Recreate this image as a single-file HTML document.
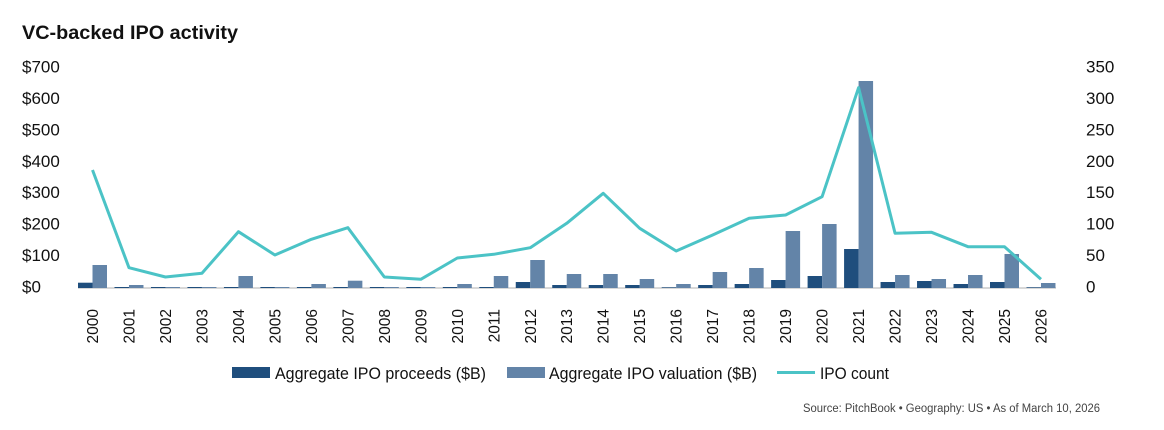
<!DOCTYPE html>
<html><head><meta charset="utf-8"><style>
html,body{margin:0;padding:0;background:#fff;}
svg{display:block;font-family:"Liberation Sans Narrow","Liberation Sans",sans-serif;}
</style></head><body>
<svg width="1164" height="430" viewBox="0 0 1164 430" xmlns="http://www.w3.org/2000/svg">
<text x="22" y="39" font-family="Liberation Sans, sans-serif" font-weight="bold" font-size="19.5" fill="#111" textLength="216" lengthAdjust="spacingAndGlyphs">VC-backed IPO activity</text>
<g font-size="17" fill="#111" dominant-baseline="middle">
<text x="22" y="68">$700</text><text x="22" y="99.4">$600</text><text x="22" y="130.9">$500</text><text x="22" y="162.3">$400</text><text x="22" y="193.7">$300</text><text x="22" y="225.1">$200</text><text x="22" y="256.6">$100</text><text x="22" y="288">$0</text>
<text x="1086" y="68">350</text><text x="1086" y="99.4">300</text><text x="1086" y="130.9">250</text><text x="1086" y="162.3">200</text><text x="1086" y="193.7">150</text><text x="1086" y="225.1">100</text><text x="1086" y="256.6">50</text><text x="1086" y="288">0</text>
</g>
<line x1="78" y1="288" x2="1056" y2="288" stroke="#ccc" stroke-width="1.5"/>
<g fill="#1f4e7d">
<rect x="78" y="282.7" width="14.5" height="5.3"/><rect x="114.48" y="287" width="14.5" height="1"/><rect x="150.96" y="287" width="14.5" height="1"/><rect x="187.44" y="287" width="14.5" height="1"/><rect x="223.92" y="287" width="14.5" height="1"/><rect x="260.4" y="287" width="14.5" height="1"/><rect x="296.88" y="287" width="14.5" height="1"/><rect x="333.36" y="287" width="14.5" height="1"/><rect x="369.84" y="287" width="14.5" height="1"/><rect x="406.32" y="287" width="14.5" height="1"/><rect x="442.8" y="287" width="14.5" height="1"/><rect x="479.28" y="287" width="14.5" height="1"/><rect x="515.76" y="282" width="14.5" height="6"/><rect x="552.24" y="285" width="14.5" height="3"/><rect x="588.72" y="285" width="14.5" height="3"/><rect x="625.2" y="285" width="14.5" height="3"/><rect x="661.68" y="287.3" width="14.5" height="0.7"/><rect x="698.16" y="285" width="14.5" height="3"/><rect x="734.64" y="284" width="14.5" height="4"/><rect x="771.12" y="280" width="14.5" height="8"/><rect x="807.6" y="276" width="14.5" height="12"/><rect x="844.08" y="249" width="14.5" height="39"/><rect x="880.56" y="282" width="14.5" height="6"/><rect x="917.04" y="281" width="14.5" height="7"/><rect x="953.52" y="284" width="14.5" height="4"/><rect x="990" y="282" width="14.5" height="6"/><rect x="1026.48" y="287.3" width="14.5" height="0.7"/>
</g>
<g fill="#6384a8">
<rect x="92.5" y="265" width="14.5" height="23"/><rect x="128.98" y="285" width="14.5" height="3"/><rect x="165.46" y="287" width="14.5" height="1"/><rect x="201.94" y="287" width="14.5" height="1"/><rect x="238.42" y="276" width="14.5" height="12"/><rect x="274.9" y="287" width="14.5" height="1"/><rect x="311.38" y="284" width="14.5" height="4"/><rect x="347.86" y="280.7" width="14.5" height="7.3"/><rect x="384.34" y="287" width="14.5" height="1"/><rect x="420.82" y="287" width="14.5" height="1"/><rect x="457.3" y="284" width="14.5" height="4"/><rect x="493.78" y="276" width="14.5" height="12"/><rect x="530.26" y="260" width="14.5" height="28"/><rect x="566.74" y="274" width="14.5" height="14"/><rect x="603.22" y="274" width="14.5" height="14"/><rect x="639.7" y="279" width="14.5" height="9"/><rect x="676.18" y="284" width="14.5" height="4"/><rect x="712.66" y="272" width="14.5" height="16"/><rect x="749.14" y="268" width="14.5" height="20"/><rect x="785.62" y="231" width="14.5" height="57"/><rect x="822.1" y="224" width="14.5" height="64"/><rect x="858.58" y="81" width="14.5" height="207"/><rect x="895.06" y="275" width="14.5" height="13"/><rect x="931.54" y="279" width="14.5" height="9"/><rect x="968.02" y="275" width="14.5" height="13"/><rect x="1004.5" y="254" width="14.5" height="34"/><rect x="1040.98" y="283" width="14.5" height="5"/>
</g>
<polyline fill="none" stroke="#4bc3c6" stroke-width="3" stroke-linejoin="round" points="92.5,170 128.98,267.7 165.46,277 201.94,273.3 238.42,231.7 274.9,255 311.38,239.3 347.86,227.7 384.34,277 420.82,279.3 457.3,258 493.78,254.3 530.26,247.7 566.74,223.3 603.22,193.3 639.7,228.3 676.18,251 712.66,235 749.14,218.3 785.62,215 822.1,196.7 858.58,87.7 895.06,233.3 931.54,232.3 968.02,246.7 1004.5,246.7 1040.98,279.3"/>
<g font-size="15.5" fill="#111" text-anchor="end">
<text transform="translate(98,309) rotate(-90)">2000</text><text transform="translate(134.5,309) rotate(-90)">2001</text><text transform="translate(171,309) rotate(-90)">2002</text><text transform="translate(207.4,309) rotate(-90)">2003</text><text transform="translate(243.9,309) rotate(-90)">2004</text><text transform="translate(280.4,309) rotate(-90)">2005</text><text transform="translate(316.9,309) rotate(-90)">2006</text><text transform="translate(353.4,309) rotate(-90)">2007</text><text transform="translate(389.8,309) rotate(-90)">2008</text><text transform="translate(426.3,309) rotate(-90)">2009</text><text transform="translate(462.8,309) rotate(-90)">2010</text><text transform="translate(499.3,309) rotate(-90)">2011</text><text transform="translate(535.8,309) rotate(-90)">2012</text><text transform="translate(572.2,309) rotate(-90)">2013</text><text transform="translate(608.7,309) rotate(-90)">2014</text><text transform="translate(645.2,309) rotate(-90)">2015</text><text transform="translate(681.7,309) rotate(-90)">2016</text><text transform="translate(718.2,309) rotate(-90)">2017</text><text transform="translate(754.6,309) rotate(-90)">2018</text><text transform="translate(791.1,309) rotate(-90)">2019</text><text transform="translate(827.6,309) rotate(-90)">2020</text><text transform="translate(864.1,309) rotate(-90)">2021</text><text transform="translate(900.6,309) rotate(-90)">2022</text><text transform="translate(937,309) rotate(-90)">2023</text><text transform="translate(973.5,309) rotate(-90)">2024</text><text transform="translate(1010,309) rotate(-90)">2025</text><text transform="translate(1046.5,309) rotate(-90)">2026</text>
</g>
<rect x="232" y="367" width="38" height="11" fill="#1f4e7d"/>
<text x="275" y="379" font-size="17" fill="#111" textLength="211" lengthAdjust="spacingAndGlyphs">Aggregate IPO proceeds ($B)</text>
<rect x="507" y="367" width="38" height="11" fill="#6384a8"/>
<text x="549" y="379" font-size="17" fill="#111" textLength="208" lengthAdjust="spacingAndGlyphs">Aggregate IPO valuation ($B)</text>
<line x1="777" y1="372.5" x2="815" y2="372.5" stroke="#4bc3c6" stroke-width="3"/>
<text x="820" y="379" font-size="17" fill="#111" textLength="69" lengthAdjust="spacingAndGlyphs">IPO count</text>
<text x="803" y="412" font-size="11.5" fill="#444" textLength="297" lengthAdjust="spacingAndGlyphs">Source: PitchBook  •  Geography: US  •  As of March 10, 2026</text>
</svg>
</body></html>
